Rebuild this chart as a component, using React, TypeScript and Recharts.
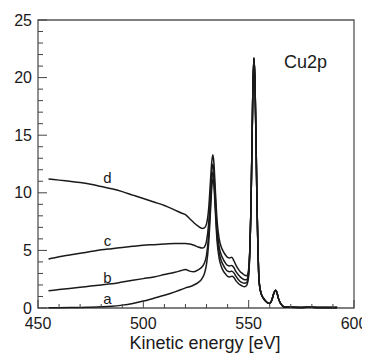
import { LineChart, Line, XAxis, YAxis, ReferenceArea, ReferenceDot } from 'recharts';

// kinetic energy grid [eV]
const energy = [
  455, 460, 465, 470, 475, 480, 485, 490, 495, 500, 505, 510, 515, 518, 520, 522, 524, 526, 528, 529,
  530, 531, 532, 532.5, 533, 533.5, 534, 535, 536, 537, 538, 539, 540, 541, 542, 543, 544, 545, 546, 547,
  548, 549, 549.5, 550, 550.5, 551, 551.5, 552, 552.5, 553, 553.5, 554, 554.5, 555, 556, 557, 558, 559, 560, 561,
  562, 562.8, 563.5, 564, 565, 566, 567, 570, 575, 580, 585, 590, 592,
];

// shared part of the spectrum above 550 eV
const tail = [
  8.0, 13.2, 19.0, 21.7, 19.6, 14.5, 8.5, 4.5, 2.2, 1.2, 0.85, 0.6, 0.45, 0.4, 0.7,
  1.3, 1.55, 1.3, 0.9, 0.45, 0.2, 0.08, 0.06, 0.05, 0.06, 0.04, 0.05, 0.04,
];

const seriesA = [
  0.02, 0.03, 0.04, 0.05, 0.07, 0.1, 0.15, 0.25, 0.4, 0.6, 0.85, 1.1, 1.4, 1.6, 1.75, 1.85, 2.0, 2.2, 2.6, 3.0,
  3.8, 5.6, 8.8, 10.5, 11.2, 10.7, 9.0, 5.8, 4.3, 3.6, 3.2, 2.95, 2.75, 2.7, 2.75, 2.65, 2.35, 2.15, 2.0, 1.9,
  1.85, 1.95, 2.2, 2.8, 4.6, ...tail,
];
const seriesB = [
  1.5, 1.6, 1.7, 1.8, 1.9, 2.0, 2.1, 2.25, 2.4, 2.55, 2.7, 2.9, 3.1, 3.25, 3.35, 3.2, 3.15, 3.3, 3.6, 3.9,
  4.6, 6.3, 9.5, 11.1, 11.8, 11.2, 9.5, 6.3, 4.8, 4.1, 3.7, 3.4, 3.2, 3.15, 3.2, 3.05, 2.75, 2.5, 2.3, 2.2,
  2.15, 2.2, 2.4, 3.0, 4.7, ...tail,
];
const seriesC = [
  4.25, 4.45, 4.6, 4.75, 4.9, 5.05, 5.15, 5.25, 5.35, 5.45, 5.5, 5.55, 5.6, 5.6, 5.6, 5.55, 5.45, 5.3, 5.2, 5.3,
  5.8, 7.3, 10.3, 11.8, 12.5, 11.9, 10.1, 6.9, 5.3, 4.6, 4.2, 3.9, 3.7, 3.65, 3.7, 3.5, 3.15, 2.9, 2.7, 2.55,
  2.45, 2.45, 2.6, 3.2, 4.8, ...tail,
];
const seriesD = [
  11.2, 11.1, 11.0, 10.9, 10.75, 10.55, 10.35, 10.1, 9.8, 9.5, 9.2, 8.9, 8.5, 8.25, 8.1, 7.75, 7.4, 7.1, 6.9, 6.95,
  7.3, 8.6, 11.4, 12.7, 13.3, 12.6, 10.9, 7.6, 6.0, 5.3, 4.9, 4.6, 4.4, 4.35, 4.4, 4.1, 3.7, 3.4, 3.15, 3.0,
  2.85, 2.8, 2.9, 3.4, 4.9, ...tail,
];

const xTicks = [450, 460, 470, 480, 490, 500, 510, 520, 530, 540, 550, 560, 570, 580, 590, 600];
const xLabels = [450, 500, 550, 600];
const yTicks = Array.from({ length: 26 }, (_, i) => i);
const yLabels = [0, 5, 10, 15, 20, 25];

const curveLabels = [
  { name: 'a', x: 483, y: 0.85 },
  { name: 'b', x: 483, y: 2.65 },
  { name: 'c', x: 483, y: 5.85 },
  { name: 'd', x: 483, y: 11.3 },
];

const data = energy.map((e, i) => ({
  e,
  a: seriesA[i],
  b: seriesB[i],
  c: seriesC[i],
  d: seriesD[i],
}));

const font = 'Liberation Sans, Arial, sans-serif';
const ink = '#1a1a1a';

const XTick = (props: any) => {
  const { x, y, payload } = props;
  const major = xLabels.includes(payload.value);
  return (
    <g>
      <line x1={x} y1={y} x2={x} y2={y - (major ? 8 : 4)} stroke="#444" strokeWidth={1} />
      {major && (
        <text x={x} y={y + 15} dy="0.355em" textAnchor="middle" fontSize={16} fill={ink} fontFamily={font}>
          {payload.value}
        </text>
      )}
    </g>
  );
};

const YTick = (props: any) => {
  const { x, y, payload } = props;
  const major = yLabels.includes(payload.value);
  return (
    <g>
      <line x1={x} y1={y} x2={x + (major ? 9 : 5)} y2={y} stroke="#444" strokeWidth={1} />
      {major && (
        <text x={x - 6} y={y} dy="0.355em" textAnchor="end" fontSize={16} fill={ink} fontFamily={font}>
          {payload.value}
        </text>
      )}
    </g>
  );
};

export default function App() {
  return (
    <LineChart width={362} height={349} data={data} margin={{ top: 12, right: 16, left: 0, bottom: 0 }}>
      <XAxis
        dataKey="e"
        type="number"
        domain={[450, 600]}
        ticks={xTicks}
        interval={0}
        height={49}
        axisLine={false}
        tickLine={false}
        tickSize={0}
        tickMargin={0}
        tick={XTick}
        label={{ value: 'Kinetic energy [eV]', position: 'insideBottom', offset: 8, dx: 9, fontSize: 18, fill: ink, fontFamily: font }}
      />
      <YAxis
        type="number"
        domain={[0, 25]}
        ticks={yTicks}
        interval={0}
        width={30}
        axisLine={false}
        tickLine={false}
        tickSize={0}
        tickMargin={0}
        tick={YTick}
      />
      <ReferenceArea x1={450} x2={600} y1={0} y2={25} fill="none" stroke="#555" strokeWidth={1.3} />
      {['a', 'b', 'c', 'd'].map((k) => (
        <Line
          key={k}
          type="monotone"
          dataKey={k}
          stroke={ink}
          strokeWidth={1.5}
          dot={false}
          isAnimationActive={false}
        />
      ))}
      {curveLabels.map((l) => (
        <ReferenceDot
          key={l.name}
          x={l.x}
          y={l.y}
          r={1}
          fill="none"
          stroke="none"
          label={{ value: l.name, position: 'center', fontSize: 15, fill: ink, fontFamily: font }}
        />
      ))}
      <ReferenceDot
        x={577}
        y={21.4}
        r={1}
        fill="none"
        stroke="none"
        label={{ value: 'Cu2p', position: 'center', fontSize: 18, fill: ink, fontFamily: font }}
      />
    </LineChart>
  );
}
